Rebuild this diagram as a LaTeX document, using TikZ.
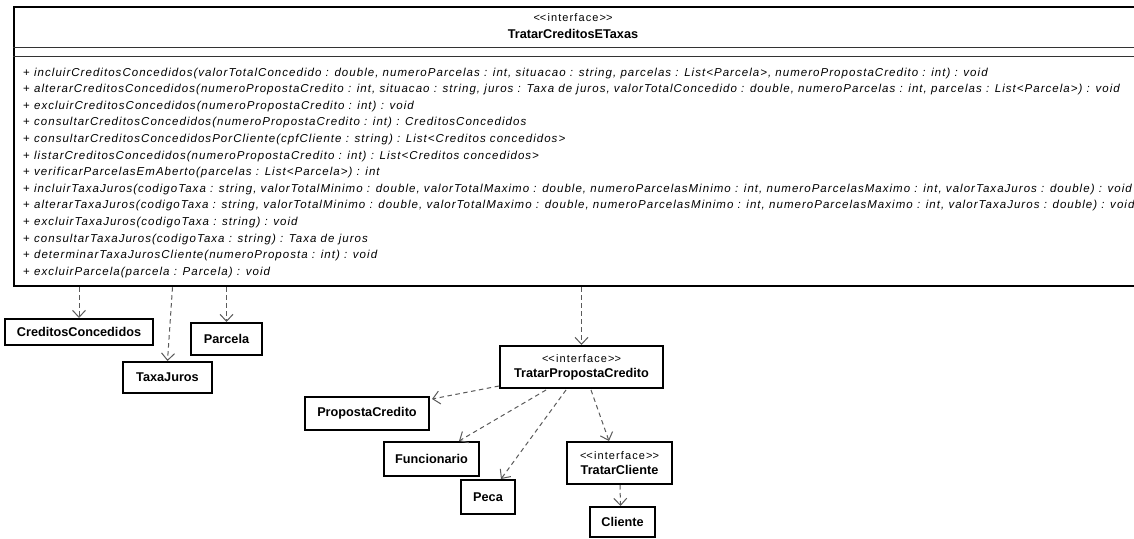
\documentclass[tikz,border=0pt]{standalone}
\usepackage{fontspec}
\setmainfont{Liberation Sans}
\newfontfamily\opfamily[LetterSpace=9]{Liberation Sans}
\newfontfamily\stfamily[LetterSpace=10]{Liberation Sans}
\usetikzlibrary{arrows.meta,calc}

\definecolor{linegray}{HTML}{5A5A5A}
\newcommand{\stereofont}{\stfamily\mdseries\fontsize{11}{13}\selectfont}
\newcommand{\ifacetag}{<\kern0pt<interface>\kern0pt>}

\begin{document}
\begin{tikzpicture}[x=1pt,y=-1pt,
  cls/.style={draw=black,line width=2pt,fill=white,inner sep=0pt,
    align=center,font=\bfseries\fontsize{12.7}{15}\selectfont},
  stereo/.style={font=\stereofont},
  dep/.style={draw=linegray,line width=1pt,dash pattern=on 4.5pt off 3.5pt,
    -{Straight Barb[length=7pt,width=13pt,line width=1pt]}},
  sepline/.style={draw=black!80,line width=1pt},
  method/.style={anchor=base west,inner sep=0pt,font=\opfamily\fontsize{11.5}{13}\selectfont}
]
\useasboundingbox (0,0) rectangle (1134,538);

% interface TratarCreditosETaxas (runs off the right edge)
\node[draw=black,line width=2.5pt,fill=white,minimum width=1121pt,minimum height=279pt,
  inner sep=0pt] (main) at (574.5,146.5) {};
\node[stereo] (mainst) at (573,18) {\ifacetag};
\node[font=\bfseries\fontsize{12.7}{15}\selectfont] (mainname) at (573,34) {TratarCreditosETaxas};
\draw[sepline] ($(main.north west)+(0,42)$) -- ($(main.north east)+(0,42)$);
\draw[sepline] ($(main.north west)+(0,51)$) -- ($(main.north east)+(0,51)$);

% operations
\foreach \txt [count=\i from 0] in {
  {incluirCreditosConcedidos(valorTotalConcedido : double, numeroParcelas : int, situacao : string, parcelas : List<Parcela>, numeroPropostaCredito : int) : void},
  {alterarCreditosConcedidos(numeroPropostaCredito : int, situacao : string, juros : Taxa de juros, valorTotalConcedido : double, numeroParcelas : int, parcelas : List<Parcela>) : void},
  {excluirCreditosConcedidos(numeroPropostaCredito : int) : void},
  {consultarCreditosConcedidos(numeroPropostaCredito : int) : CreditosConcedidos},
  {consultarCreditosConcedidosPorCliente(cpfCliente : string) : List<Creditos concedidos>},
  {listarCreditosConcedidos(numeroPropostaCredito : int) : List<Creditos concedidos>},
  {verificarParcelasEmAberto(parcelas : List<Parcela>) : int},
  {incluirTaxaJuros(codigoTaxa : string, valorTotalMinimo : double, valorTotalMaximo : double, numeroParcelasMinimo : int, numeroParcelasMaximo : int, valorTaxaJuros : double) : void},
  {alterarTaxaJuros(codigoTaxa : string, valorTotalMinimo : double, valorTotalMaximo : double, numeroParcelasMinimo : int, numeroParcelasMaximo : int, valorTaxaJuros : double) : void},
  {excluirTaxaJuros(codigoTaxa : string) : void},
  {consultarTaxaJuros(codigoTaxa : string) : Taxa de juros},
  {determinarTaxaJurosCliente(numeroProposta : int) : void},
  {excluirParcela(parcela : Parcela) : void}}
  \node[method] (op\i) at (23,{76+16.6*\i}) {+ \textit{\txt}};

% classes
\node[cls,minimum width=148pt,minimum height=26pt] (cc) at (79,332) {CreditosConcedidos};
\node[cls,minimum width=89pt,minimum height=31pt] (tj) at (167.5,377.5) {TaxaJuros};
\node[cls,minimum width=71pt,minimum height=32pt] (parc) at (226.5,339) {Parcela};
\node[cls,minimum width=163pt,minimum height=42pt] (tpc) at (581.5,367)
  {{\stereofont\ifacetag}\\TratarPropostaCredito};
\node[cls,minimum width=124pt,minimum height=33pt] (pc) at (367,413.5) {PropostaCredito};
\node[cls,minimum width=95pt,minimum height=34pt] (func) at (431.5,459) {Funcionario};
\node[cls,minimum width=54pt,minimum height=34pt] (peca) at (488,497) {Peca};
\node[cls,minimum width=105pt,minimum height=42pt] (tc) at (619.5,463)
  {{\stereofont\ifacetag}\\TratarCliente};
\node[cls,minimum width=65pt,minimum height=30pt] (cli) at (622.5,522) {Cliente};

% dependencies
\draw[dep] (main.south -| cc.north) -- (cc.north);
\draw[dep] ($(main.south -| tj.north)+(5,0)$) -- (tj.north);
\draw[dep] (main.south -| parc.north) -- (parc.north);
\draw[dep] (main.south -| tpc.north) -- (tpc.north);
\draw[dep] ($(tpc.south west)+(0,-3)$) -- ($(pc.north east)+(2,3)$);
\draw[dep] ($(tpc.south west)+(47,1)$) -- ($(func.north west)+(76,0)$);
\draw[dep] ($(tpc.south west)+(67,1)$) -- ($(peca.north west)+(41,0)$);
\draw[dep] ($(tpc.south west)+(92,1)$) -- ($(tc.north west)+(43,0)$);
\draw[dep] ($(tc.south)+(0.5,0)$) -- ($(cli.north)+(-2,0)$);
\end{tikzpicture}
\end{document}
